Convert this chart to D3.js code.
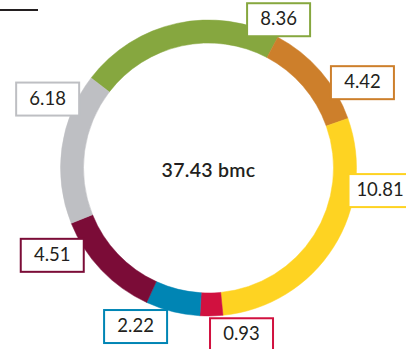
<!DOCTYPE html>
<html>
<head>
<meta charset="utf-8">
<script src="https://cdn.jsdelivr.net/npm/d3@7"></script>
<style>
  html, body { margin: 0; padding: 0; background: #fff; }
  svg { display: block; }
</style>
</head>
<body>
<svg id="chart" width="406" height="349"></svg>
<script>
// segments, clockwise from the upper left
let values = [8.36, 4.42, 10.81, 0.93, 2.22, 4.51, 6.18];
let labels = ["8.36", "4.42", "10.81", "0.93", "2.22", "4.51", "6.18"];
let colors = ["#86a73f", "#cd7f2b", "#fed322", "#d1113f", "#0085b4", "#7b0c37", "#bebfc3"];
let totalLabel = "37.43 bmc";

// where each label box sits (degrees clockwise from north, distance from center)
let labelAngle = [25.3, 61, 97.5, 168.8, 204.7, 240.8, 293.2];
let labelRadius = [164, 176, 173, 170, 174.5, 179, 175];

let width = 406, height = 349;
let cx = 208.5, cy = 168;
let rOuter = 148, rInner = 125;
let boxW = 63, boxH = 33;

let svg = d3.select("#chart");

// short rule in the corner
svg.append("line")
  .attr("x1", 0).attr("x2", 38)
  .attr("y1", 10).attr("y2", 10)
  .attr("stroke", "#231f20").attr("stroke-width", 2);

let g = svg.append("g").attr("transform", `translate(${cx},${cy})`);

let start = -52.5 * Math.PI / 180;
let pie = d3.pie().sort(null).value(d => d)
  .startAngle(start).endAngle(start + 2 * Math.PI);
let arc = d3.arc().innerRadius(rInner).outerRadius(rOuter);

g.selectAll("path.seg")
  .data(pie(values))
  .join("path")
  .attr("class", "seg")
  .attr("d", arc)
  .attr("fill", (d, i) => colors[i])
  .attr("stroke", (d, i) => colors[i])
  .attr("stroke-width", 0.5);

g.append("text")
  .attr("x", 0).attr("y", 4)
  .attr("text-anchor", "middle")
  .attr("dominant-baseline", "middle")
  .style("font-family", "Lato, 'Open Sans', sans-serif")
  .style("font-size", "19.5px")
  .style("font-weight", 600)
  .style("letter-spacing", "0.3px")
  .attr("fill", "#231f20")
  .text(totalLabel);

let boxes = g.selectAll("g.lbl")
  .data(values)
  .join("g")
  .attr("class", "lbl")
  .attr("transform", (d, i) => {
    let a = labelAngle[i] * Math.PI / 180;
    let x = labelRadius[i] * Math.sin(a);
    let y = -labelRadius[i] * Math.cos(a);
    return `translate(${x},${y})`;
  });

boxes.append("rect")
  .attr("x", -boxW / 2).attr("y", -boxH / 2)
  .attr("width", boxW).attr("height", boxH)
  .attr("fill", "#fff")
  .attr("stroke", (d, i) => colors[i])
  .attr("stroke-width", 2);

boxes.append("text")
  .attr("x", 0).attr("y", 1)
  .attr("text-anchor", "middle")
  .attr("dominant-baseline", "middle")
  .style("font-family", "Lato, 'Open Sans', sans-serif")
  .style("font-size", "18.5px")
  .style("font-weight", 400)
  .attr("fill", "#231f20")
  .text((d, i) => labels[i]);
</script>
</body>
</html>
